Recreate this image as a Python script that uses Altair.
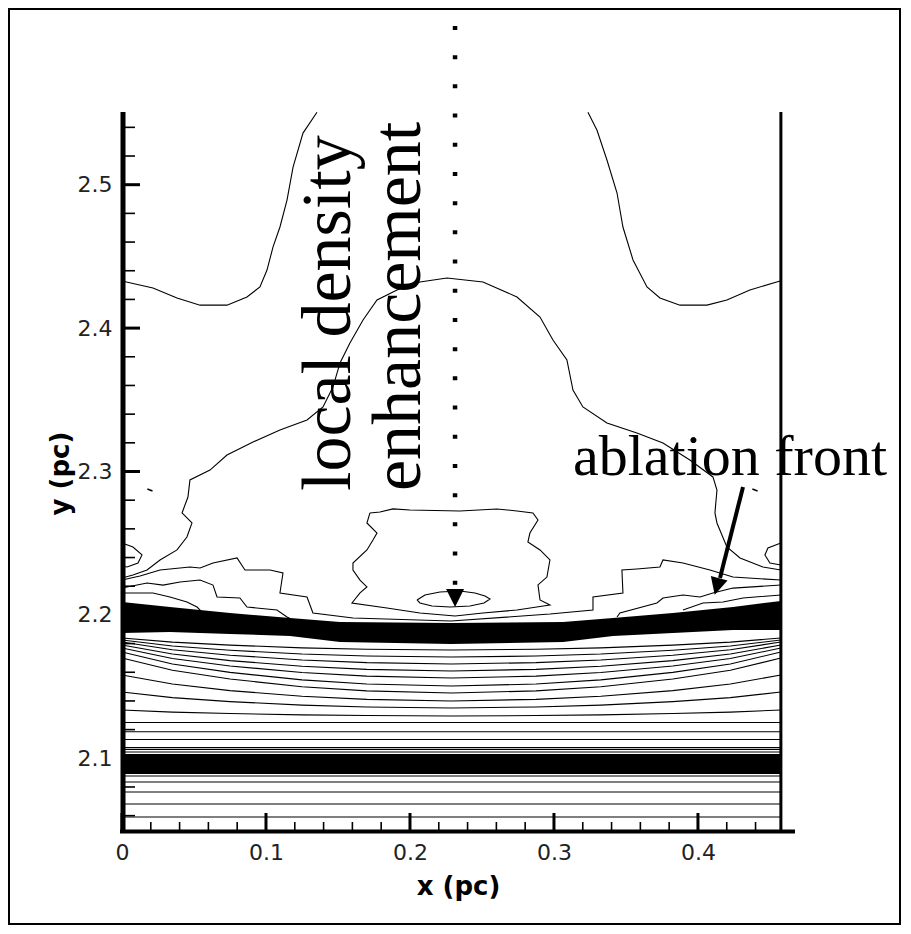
import altair as alt
import pandas as pd

# ---------------- axes ----------------
x_domain = [0.0, 0.4674]
y_domain = [2.05, 2.55]
x_major = [0.0, 0.1, 0.2, 0.3, 0.4]
x_minor = [0.02, 0.04, 0.06, 0.08, 0.12, 0.14, 0.16, 0.18, 0.22, 0.24,
           0.26, 0.28, 0.32, 0.34, 0.36, 0.38, 0.42, 0.44]
y_major = [2.1, 2.2, 2.3, 2.4, 2.5]
y_minor = [2.06, 2.08, 2.12, 2.14, 2.16, 2.18, 2.22, 2.24, 2.26, 2.28,
           2.32, 2.34, 2.36, 2.38, 2.42, 2.44, 2.46, 2.48, 2.52, 2.54]
edge_x = [0.4576]

# ---------------- contour lines ----------------
u_left_x = [0.0, 0.0215, 0.0382, 0.0542, 0.0729, 0.0868, 0.0958, 0.1007, 0.1049, 0.1097, 0.1146, 0.1188, 0.1257, 0.1354]
u_left_y = [2.4328, 2.4280, 2.4210, 2.4160, 2.4160, 2.4217, 2.4287, 2.4405, 2.4566, 2.4705, 2.4893, 2.5123, 2.5360, 2.5505]

u_right_x = [0.3236, 0.3299, 0.3368, 0.3438, 0.3479, 0.3549, 0.3646, 0.3736, 0.3875, 0.4063, 0.4201, 0.4361, 0.4576]
u_right_y = [2.5505, 2.5380, 2.5172, 2.4942, 2.4705, 2.4475, 2.4287, 2.4210, 2.4160, 2.4160, 2.4196, 2.4266, 2.4330]

dome_x = [0.0, 0.0076, 0.0174, 0.0264, 0.0382, 0.0451, 0.0486, 0.0417, 0.0458, 0.0472, 0.0611, 0.0729, 0.0910,
          0.1097, 0.1285, 0.1396, 0.1465, 0.1514, 0.1583, 0.1674, 0.1771, 0.1910, 0.2069, 0.2257, 0.2507, 0.2743,
          0.2903, 0.2993, 0.3090, 0.3132, 0.3201, 0.3368, 0.3576, 0.3757, 0.3944, 0.4104, 0.4132, 0.4118, 0.4132,
          0.4201, 0.4292, 0.4451, 0.4576]
dome_y = [2.2257, 2.2278, 2.2313, 2.2383, 2.2453, 2.2543, 2.2641, 2.2711, 2.2822, 2.2941, 2.3010, 2.3115, 2.3206,
          2.3289, 2.3359, 2.3450, 2.3589, 2.3757, 2.3896, 2.4057, 2.4196, 2.4266, 2.4322, 2.4349, 2.4322, 2.4217,
          2.4077, 2.3917, 2.3778, 2.3568, 2.3450, 2.3338, 2.3268, 2.3199, 2.3080, 2.2962, 2.2871, 2.2711, 2.2641,
          2.2474, 2.2397, 2.2334, 2.2313]

core_x = [0.1722, 0.1701, 0.1771, 0.1743, 0.1701, 0.1604, 0.1604, 0.1653, 0.1701, 0.1653, 0.1597, 0.1840, 0.2069,
          0.2313, 0.2507, 0.2743, 0.2972, 0.2903, 0.2889, 0.2951, 0.2972, 0.2903, 0.2819, 0.2833, 0.2889, 0.2854,
          0.2743, 0.2604, 0.2347, 0.2000, 0.1882, 0.1792, 0.1722]
core_y = [2.2711, 2.2641, 2.2571, 2.2522, 2.2453, 2.2362, 2.2313, 2.2243, 2.2195, 2.2153, 2.2083, 2.2048, 2.2013,
          2.1992, 2.2013, 2.2034, 2.2069, 2.2104, 2.2209, 2.2264, 2.2383, 2.2453, 2.2508, 2.2571, 2.2662, 2.2711,
          2.2725, 2.2739, 2.2725, 2.2732, 2.2739, 2.2718, 2.2711]

ellipse_x = [0.2049, 0.2104, 0.2208, 0.2347, 0.2451, 0.2521, 0.2556, 0.2514, 0.2417, 0.2278, 0.2153, 0.2069, 0.2049]
ellipse_y = [2.2104, 2.2139, 2.2160, 2.2167, 2.2153, 2.2132, 2.2111, 2.2083, 2.2062, 2.2055, 2.2062, 2.2083, 2.2104]

ripple1_x = [0.0, 0.0125, 0.0264, 0.0472, 0.0542, 0.0632, 0.0799, 0.0854, 0.1028, 0.1118, 0.1097, 0.1285, 0.1326,
             0.1604, 0.2285, 0.2972, 0.3271, 0.3271, 0.3479, 0.3472, 0.3576, 0.3736, 0.3757, 0.3896, 0.4083, 0.4243, 0.4576]
ripple1_y = [2.2243, 2.2271, 2.2313, 2.2334, 2.2327, 2.2362, 2.2397, 2.2313, 2.2313, 2.2292, 2.2153, 2.2125, 2.2013,
             2.1978, 2.1957, 2.2006, 2.2034, 2.2125, 2.2153, 2.2313, 2.2320, 2.2334, 2.2383, 2.2362, 2.2313, 2.2264, 2.2243]

ripple2l_x = [0.0, 0.0174, 0.0285, 0.0403, 0.0542, 0.0632, 0.0660, 0.0819, 0.0868, 0.1076, 0.1146, 0.1188]
ripple2l_y = [2.2187, 2.2222, 2.2208, 2.2229, 2.2243, 2.2208, 2.2125, 2.2118, 2.2055, 2.2034, 2.1985, 2.1964]
ripple2r_x = [0.3438, 0.3458, 0.3715, 0.3757, 0.3896, 0.4014, 0.4104, 0.4243, 0.4576]
ripple2r_y = [2.1985, 2.2013, 2.2083, 2.2118, 2.2139, 2.2125, 2.2153, 2.2187, 2.2208]
ripple3l_x = [0.0, 0.0215, 0.0333, 0.0451, 0.0521, 0.0563, 0.0681]
ripple3l_y = [2.2153, 2.2153, 2.2125, 2.2090, 2.2055, 2.2013, 2.1985]
ripple3r_x = [0.3896, 0.4035, 0.4174, 0.4313, 0.4576]
ripple3r_y = [2.2034, 2.2083, 2.2090, 2.2118, 2.2139]

loop_left_x = [0.0, 0.0076, 0.0139, 0.0111, 0.0035, 0.0]
loop_left_y = [2.2501, 2.2473, 2.2418, 2.2362, 2.2334, 2.2341]
loop_right_x = [0.4576, 0.4486, 0.4465, 0.4500, 0.4576]
loop_right_y = [2.2501, 2.2467, 2.2418, 2.2362, 2.2348]

# bowed contours between the two dense bands
bow_x = [0.0, 0.035, 0.075, 0.125, 0.17, 0.2288, 0.2875, 0.3325, 0.3825, 0.4225, 0.4576]
bow_1 = [2.1839, 2.1810, 2.1789, 2.1770, 2.1760, 2.1755, 2.1760, 2.1770, 2.1789, 2.1810, 2.1839]
bow_2 = [2.1825, 2.1783, 2.1754, 2.1727, 2.1713, 2.1706, 2.1713, 2.1727, 2.1754, 2.1783, 2.1825]
bow_3 = [2.1811, 2.1757, 2.1719, 2.1686, 2.1667, 2.1658, 2.1667, 2.1686, 2.1719, 2.1757, 2.1811]
bow_4 = [2.1790, 2.1727, 2.1681, 2.1642, 2.1620, 2.1609, 2.1620, 2.1642, 2.1681, 2.1727, 2.1790]
bow_5 = [2.1769, 2.1696, 2.1644, 2.1598, 2.1573, 2.1560, 2.1573, 2.1598, 2.1644, 2.1696, 2.1769]
bow_6 = [2.1741, 2.1658, 2.1599, 2.1547, 2.1518, 2.1504, 2.1518, 2.1547, 2.1599, 2.1658, 2.1741]
bow_7 = [2.1699, 2.1614, 2.1553, 2.1499, 2.1470, 2.1455, 2.1470, 2.1499, 2.1553, 2.1614, 2.1699]
bow_8 = [2.1581, 2.1518, 2.1472, 2.1433, 2.1411, 2.1400, 2.1411, 2.1433, 2.1472, 2.1518, 2.1581]
bow_9 = [2.1462, 2.1423, 2.1395, 2.1371, 2.1358, 2.1351, 2.1358, 2.1371, 2.1395, 2.1423, 2.1462]
bow_10 = [2.1337, 2.1322, 2.1312, 2.1303, 2.1298, 2.1295, 2.1298, 2.1303, 2.1312, 2.1322, 2.1337]

# nearly flat contours near the lower band
flat_levels = [2.1250, 2.1185, 2.1131, 2.1075, 2.1062, 2.1044, 2.0877, 2.0835, 2.0765, 2.0681, 2.0591]

# dense bands (many merged contours) drawn as filled strips
band_x = [0.0, 0.0333, 0.075, 0.1167, 0.1514, 0.2285, 0.3063, 0.341, 0.3826, 0.4243, 0.4576]
band_top = [2.2090, 2.2055, 2.2013, 2.1978, 2.1950, 2.1943, 2.1950, 2.1978, 2.2013, 2.2055, 2.2097]
band_bot = [2.1874, 2.1881, 2.1867, 2.1853, 2.1811, 2.1797, 2.1811, 2.1853, 2.1874, 2.1895, 2.1895]
band2_x = [0.0, 0.4576]
band2_top = [2.1030, 2.1030]
band2_bot = [2.0891, 2.0891]

specks_x = [0.0194, 0.4396]
specks_y = [2.2871, 2.2871]

# ---------------- annotations ----------------
label_v_text = ["local density", "enhancement"]
label_v_x = [0.1583, 0.2069]
label_v_y = [2.2864, 2.2864]
label_h_text = ["ablation front"]
label_h_x = [0.3132]
label_h_y = [2.2976]

dotted_x = [0.2313]
dotted_top = [2.6107]
dotted_bot = [2.2174]
dotted_head_y = [2.2118]

front_arrow_x = [0.4313]
front_arrow_y = [2.2892]
front_arrow_x2 = [0.4153]
front_arrow_y2 = [2.2257]
front_head_x = [0.4132]
front_head_y = [2.2198]

# ---------------- assemble ----------------
rows = []
def add(name, xs, ys):
    for i, (a, b) in enumerate(zip(xs, ys)):
        rows.append({"line": name, "i": i, "x": a, "y": b})

add("u_left", u_left_x, u_left_y)
add("u_right", u_right_x, u_right_y)
add("dome", dome_x, dome_y)
add("core", core_x, core_y)
add("ellipse", ellipse_x, ellipse_y)
add("r1", ripple1_x, ripple1_y)
add("r2l", ripple2l_x, ripple2l_y)
add("r2r", ripple2r_x, ripple2r_y)
add("r3l", ripple3l_x, ripple3l_y)
add("r3r", ripple3r_x, ripple3r_y)
add("loopl", loop_left_x, loop_left_y)
add("loopr", loop_right_x, loop_right_y)
for k, b in enumerate([bow_1, bow_2, bow_3, bow_4, bow_5, bow_6, bow_7, bow_8, bow_9, bow_10]):
    add(f"bow{k}", bow_x, b)
for k, lv in enumerate(flat_levels):
    add(f"flat{k}", [0.0, edge_x[0]], [lv, lv])
lines_df = pd.DataFrame(rows)

band_rows = []
for i, (a, t, b) in enumerate(zip(band_x, band_top, band_bot)):
    band_rows.append({"band": "main", "x": a, "y": t, "y2": b})
for i, (a, t, b) in enumerate(zip(band2_x, band2_top, band2_bot)):
    band_rows.append({"band": "low", "x": a, "y": t, "y2": b})
band_df = pd.DataFrame(band_rows)

xs = alt.Scale(domain=x_domain, nice=False, zero=False)
ys = alt.Scale(domain=y_domain, nice=False, zero=False)
x_axis = alt.Axis(values=x_major, format="~g", title="x (pc)", domain=False, ticks=False, tickSize=0,
                  grid=False, labelFlush=False, labelFont="DejaVu Sans", labelFontSize=22,
                  labelColor="#222222", labelPadding=12, titleFont="DejaVu Sans", titleFontSize=26,
                  titleFontWeight="bold", titleColor="black", titleX=336, titleY=56,
                  titleAlign="center", titleBaseline="middle")
y_axis = alt.Axis(values=y_major, format="~g", title="y (pc)", domain=False, ticks=False, tickSize=0,
                  grid=False, labelFont="DejaVu Sans", labelFontSize=22, labelColor="#222222",
                  labelPadding=10, titleFont="DejaVu Sans", titleFontSize=26, titleFontWeight="bold",
                  titleColor="black", titleX=-62, titleY=360, titleAngle=270, titleAlign="center",
                  titleBaseline="middle")
X = alt.X("x:Q", scale=xs, axis=x_axis)
Y = alt.Y("y:Q", scale=ys, axis=y_axis)

one = pd.DataFrame({"k": [0]})

contours = alt.Chart(lines_df).mark_line(color="black", strokeWidth=1.1).encode(
    x=X, y=Y, detail="line:N", order="i:Q")

bands = alt.Chart(band_df).mark_area(color="black", orient="vertical", opacity=1).encode(
    x=X, y=Y, y2="y2:Q", detail="band:N")

specks = alt.Chart(pd.DataFrame({"x": specks_x, "y": specks_y})).mark_point(
    shape="stroke", size=30, strokeWidth=1.5, color="black", opacity=1, angle=20).encode(x=X, y=Y)

edge = alt.Chart(pd.DataFrame({"x": edge_x})).mark_rule(color="black", strokeWidth=3).encode(
    x=X, y=alt.value(-1), y2=alt.value(717))

left_axis = alt.Chart(one).mark_rule(color="black", strokeWidth=5).encode(
    x=alt.value(1), y=alt.value(-1), y2=alt.value(720))
bottom_axis = alt.Chart(one).mark_rule(color="black", strokeWidth=4).encode(
    y=alt.value(718.5), x=alt.value(-2), x2=alt.value(673))

xt_major = alt.Chart(pd.DataFrame({"x": x_major})).mark_rule(color="black", strokeWidth=3).encode(
    x=X, y=alt.value(717), y2=alt.value(700))
xt_minor = alt.Chart(pd.DataFrame({"x": x_minor})).mark_rule(color="black", strokeWidth=1.6).encode(
    x=X, y=alt.value(717), y2=alt.value(709))
yt_major = alt.Chart(pd.DataFrame({"y": y_major})).mark_rule(color="black", strokeWidth=3).encode(
    y=Y, x=alt.value(3), x2=alt.value(18))
yt_minor = alt.Chart(pd.DataFrame({"y": y_minor})).mark_rule(color="black", strokeWidth=1.6).encode(
    y=Y, x=alt.value(3), x2=alt.value(13))

dotted = alt.Chart(pd.DataFrame({"x": dotted_x, "y": dotted_top, "y2": dotted_bot})).mark_rule(
    color="black", strokeWidth=4.5, strokeDash=[4, 25.2]).encode(x=X, y=Y, y2="y2:Q")
dotted_head = alt.Chart(pd.DataFrame({"x": dotted_x, "y": dotted_head_y})).mark_point(
    shape="M-1,-1L1,-1L0,1Z", size=324, filled=True, color="black", opacity=1, strokeWidth=0).encode(x=X, y=Y)

front_arrow = alt.Chart(pd.DataFrame({"x": front_arrow_x, "y": front_arrow_y,
                                      "x2": front_arrow_x2, "y2": front_arrow_y2})).mark_rule(
    color="black", strokeWidth=4).encode(x=X, y=Y, x2="x2:Q", y2="y2:Q")
front_head = alt.Chart(pd.DataFrame({"x": front_head_x, "y": front_head_y})).mark_point(
    shape="M-1,-1L1,-1L0,1Z", size=300, filled=True, color="black", opacity=1, strokeWidth=0,
    angle=15).encode(x=X, y=Y)

text_v = alt.Chart(pd.DataFrame({"x": label_v_x, "y": label_v_y, "t": label_v_text})).mark_text(
    font="Liberation Serif", fontSize=70, angle=270, align="left", baseline="alphabetic",
    color="black").encode(x=X, y=Y, text="t:N")
text_h = alt.Chart(pd.DataFrame({"x": label_h_x, "y": label_h_y, "t": label_h_text})).mark_text(
    font="Liberation Serif", fontSize=58, align="left", baseline="alphabetic",
    color="black").encode(x=X, y=Y, text="t:N")

frame = alt.Chart(one).mark_rect(fill="transparent", stroke="black", strokeWidth=2).encode(
    x=alt.value(-113), x2=alt.value(778), y=alt.value(-104), y2=alt.value(811))

chart = alt.layer(
    contours, bands, specks, edge, left_axis, bottom_axis, xt_major, xt_minor, yt_major, yt_minor,
    dotted, dotted_head, front_arrow, front_head, text_v, text_h, frame
).properties(
    width=673, height=717,
    padding={"left": 114, "top": 105, "right": 107, "bottom": 96},
    autosize=alt.AutoSizeParams(type="none"),
    background="white",
).configure_view(strokeWidth=0)

chart.save("out.html", embed_options={"renderer": "svg", "actions": False})
